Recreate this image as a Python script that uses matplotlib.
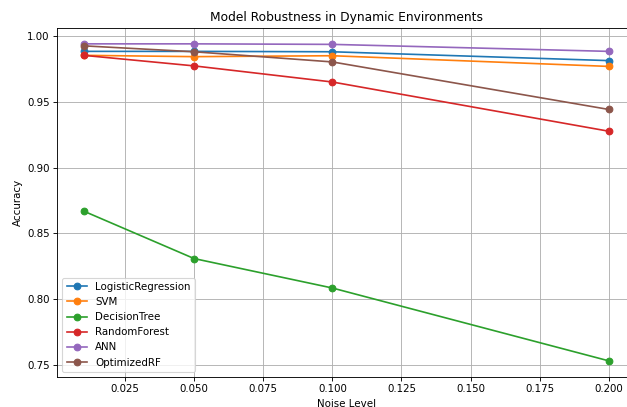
import matplotlib
matplotlib.use("Agg")
import matplotlib.pyplot as plt

noise_levels = [0.01, 0.05, 0.10, 0.20]
logistic_regression = [0.988, 0.988, 0.9877, 0.981]
svm = [0.985, 0.984, 0.9847, 0.9766]
decision_tree = [0.867, 0.831, 0.8087, 0.7535]
random_forest = [0.985, 0.977, 0.9648, 0.9275]
ann = [0.9937, 0.9937, 0.9933, 0.988]
optimized_rf = [0.9922, 0.9877, 0.980, 0.944]

series = [
    ("LogisticRegression", logistic_regression),
    ("SVM", svm),
    ("DecisionTree", decision_tree),
    ("RandomForest", random_forest),
    ("ANN", ann),
    ("OptimizedRF", optimized_rf),
]

plt.rcParams["font.size"] = 9.2

dpi = 80
fig = plt.figure(figsize=(627 / dpi, 407 / dpi), dpi=dpi)
ax = fig.add_axes([57.3 / 627, 1 - 376.7 / 407, (635 - 57.3) / 627, (376.7 - 28) / 407])

for name, vals in series:
    ax.plot(noise_levels, vals, marker="o", label=name)

ax.set_title("Model Robustness in Dynamic Environments", fontsize=11)
ax.set_xlabel("Noise Level")
ax.set_ylabel("Accuracy")
ax.grid(True)
ax.legend(loc="lower left")

fig.savefig("out.png", dpi=dpi)
